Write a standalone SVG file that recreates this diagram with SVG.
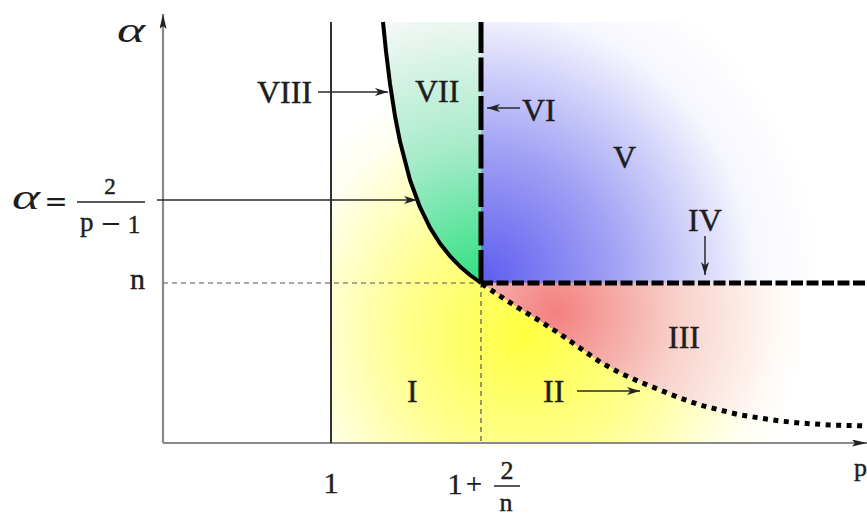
<svg xmlns="http://www.w3.org/2000/svg" width="867" height="516" viewBox="0 0 867 516">
<style>
.t{font-family:"Liberation Serif","DejaVu Serif",serif;fill:#1e1e1e;stroke:#1e1e1e;stroke-width:0.45}
.a{font-family:"Liberation Serif","DejaVu Serif",serif;fill:#1e1e1e;font-style:italic}
.r{font-size:32px}
.m{font-family:"DejaVu Serif","Liberation Serif",serif;fill:#1e1e1e}
.ann{stroke:#2a2a2a;stroke-width:1.5;fill:none;marker-end:url(#ah)}
.axis{stroke:#8a8a8a;stroke-width:2.2;fill:none}
</style>
<defs>
<marker id="ah" markerUnits="userSpaceOnUse" markerWidth="14" markerHeight="10" refX="13" refY="4" orient="auto"><path d="M0,0 L13,4 L0,8 L3.5,4 Z" fill="#222"/></marker>
<marker id="axh" markerUnits="userSpaceOnUse" markerWidth="16" markerHeight="8" refX="15" refY="3.5" orient="auto"><path d="M0,0 L15,3.5 L0,7 L3,3.5 Z" fill="#222"/></marker>
<radialGradient id="gy" gradientUnits="userSpaceOnUse" cx="525" cy="335" r="275"><stop offset="0" stop-color="#ffff40"/><stop offset="0.45" stop-color="#ffff90"/><stop offset="0.85" stop-color="#fffff0"/><stop offset="1" stop-color="#ffffff"/></radialGradient>
<radialGradient id="gg" gradientUnits="userSpaceOnUse" cx="481" cy="283" r="275"><stop offset="0" stop-color="#30e080"/><stop offset="0.5" stop-color="#a6ebca"/><stop offset="1" stop-color="#f4f8f6"/></radialGradient>
<radialGradient id="gb" gradientUnits="userSpaceOnUse" cx="481" cy="283" r="340"><stop offset="0" stop-color="#5c5cf0"/><stop offset="0.4" stop-color="#a2a2f5"/><stop offset="0.8" stop-color="#f6f6fe"/><stop offset="1" stop-color="#ffffff"/></radialGradient>
<radialGradient id="gr" gradientUnits="userSpaceOnUse" cx="555" cy="312" r="250"><stop offset="0" stop-color="#f38080"/><stop offset="0.5" stop-color="#f8d2ca"/><stop offset="0.9" stop-color="#fffaf6"/><stop offset="1" stop-color="#ffffff"/></radialGradient>
</defs>
<rect width="867" height="516" fill="#ffffff"/>
<g id="regions">
<path id="region-yellow" fill="url(#gy)" d="M331,22 L383,22 L386,51.4 L390,83.7 L395,116 L400,141.6 L410,180 L420,207.2 L430,227.6 L440,243.5 L450,256.1 L460,266.4 L470,275 L481,283 L500,296 L520,309 L540,321 L560,334 L580,348 L600,362 L620,373 L640,382 L660,390 L680,398 L700,405 L720,410 L740,415 L760,418 L780,421 L800,423 L830,425 L867,426 L867,443 L331,443 Z"/>
<path id="region-green" fill="url(#gg)" d="M383,22 L386,51.4 L390,83.7 L395,116 L400,141.6 L410,180 L420,207.2 L430,227.6 L440,243.5 L450,256.1 L460,266.4 L470,275 L481,283 L481,22 Z"/>
<rect id="region-blue" x="481" y="22" width="386" height="261" fill="url(#gb)"/>
<path id="region-red" fill="url(#gr)" d="M481,283 L867,283 L867,426 L830,425 L800,423 L780,421 L760,418 L740,415 L720,410 L700,405 L680,398 L660,390 L640,382 L620,373 L600,362 L580,348 L560,334 L540,321 L520,309 L500,296 Z"/>
</g>
<g id="connectors">
<line class="axis" x1="163" y1="443" x2="163" y2="14" marker-end="url(#axh)"/>
<line class="axis" x1="163" y1="443" x2="867" y2="443" marker-end="url(#axh)"/>
<line x1="331" y1="22" x2="331" y2="443" stroke="#333" stroke-width="2"/>
<line x1="163" y1="283" x2="481" y2="283" stroke="#555" stroke-width="1.2" stroke-dasharray="5 4"/>
<line x1="481" y1="283" x2="481" y2="443" stroke="#555" stroke-width="1.2" stroke-dasharray="5 4"/>
<polyline fill="none" stroke="#000" stroke-width="4" stroke-linejoin="round" points="383,22 386,51.4 390,83.7 395,116 400,141.6 410,180 420,207.2 430,227.6 440,243.5 450,256.1 460,266.4 470,275 481,283"/>
<line x1="481" y1="22" x2="481" y2="283" stroke="#000" stroke-width="5" stroke-dasharray="34 4.5" stroke-dashoffset="3"/>
<line x1="481" y1="283" x2="867" y2="283" stroke="#000" stroke-width="5" stroke-dasharray="12 3.5"/>
<polyline fill="none" stroke="#000" stroke-width="5" stroke-dasharray="5 5.5" points="482,284 500,296 520,309 540,321 560,334 580,348 600,362 620,373 640,382 660,390 680,398 700,405 720,410 740,415 760,418 780,421 800,423 830,425 867,426"/>
<line class="ann" x1="318" y1="92" x2="388" y2="92"/>
<line class="ann" x1="157" y1="200" x2="417" y2="200"/>
<line class="ann" x1="520" y1="108" x2="487" y2="108"/>
<line class="ann" x1="705" y1="236" x2="705" y2="275"/>
<line class="ann" x1="577" y1="391" x2="640" y2="391"/>
</g>
<g id="label-alpha-axis"><text class="a" x="117" y="42" font-size="36" textLength="28" lengthAdjust="spacingAndGlyphs">α</text></g>
<g id="label-p-axis"><text class="t" x="854" y="476" font-size="26">p</text></g>
<g id="label-VIII"><text class="t r" x="257" y="103">VIII</text></g>
<g id="label-VII"><text class="t r" x="415" y="102">VII</text></g>
<g id="label-VI"><text class="t r" x="522" y="121">VI</text></g>
<g id="label-V"><text class="t r" x="613" y="168">V</text></g>
<g id="label-IV"><text class="t r" x="688" y="231">IV</text></g>
<g id="label-III"><text class="t r" x="668" y="348">III</text></g>
<g id="label-II"><text class="t r" x="543" y="402">II</text></g>
<g id="label-I"><text class="t r" x="407" y="402">I</text></g>
<g id="label-curve">
<text class="a" x="12" y="209" font-size="36" textLength="28" lengthAdjust="spacingAndGlyphs">α</text>
<text class="m" x="56" y="211" font-size="28" text-anchor="middle">=</text>
<text class="t" x="110" y="194" font-size="23" text-anchor="middle">2</text>
<line x1="77" y1="202" x2="145" y2="202" stroke="#222" stroke-width="1.5"/>
<text class="t" x="80" y="231" font-size="27">p</text>
<text class="m" x="111" y="232" font-size="26" text-anchor="middle">−</text>
<text class="t" x="134" y="233" font-size="25" text-anchor="middle">1</text>
</g>
<g id="label-n"><text class="t" x="130" y="289" font-size="30">n</text></g>
<g id="label-1"><text class="t" x="331" y="493" font-size="30" text-anchor="middle">1</text></g>
<g id="label-1-2n">
<text class="t" x="455" y="494" font-size="30" text-anchor="middle">1</text>
<text class="m" x="474" y="491" font-size="22" text-anchor="middle" fill="#555">+</text>
<text class="t" x="507" y="479" font-size="26" text-anchor="middle">2</text>
<line x1="494" y1="486" x2="520" y2="486" stroke="#222" stroke-width="1.5"/>
<text class="t" x="506" y="511" font-size="26" text-anchor="middle">n</text>
</g>
</svg>
